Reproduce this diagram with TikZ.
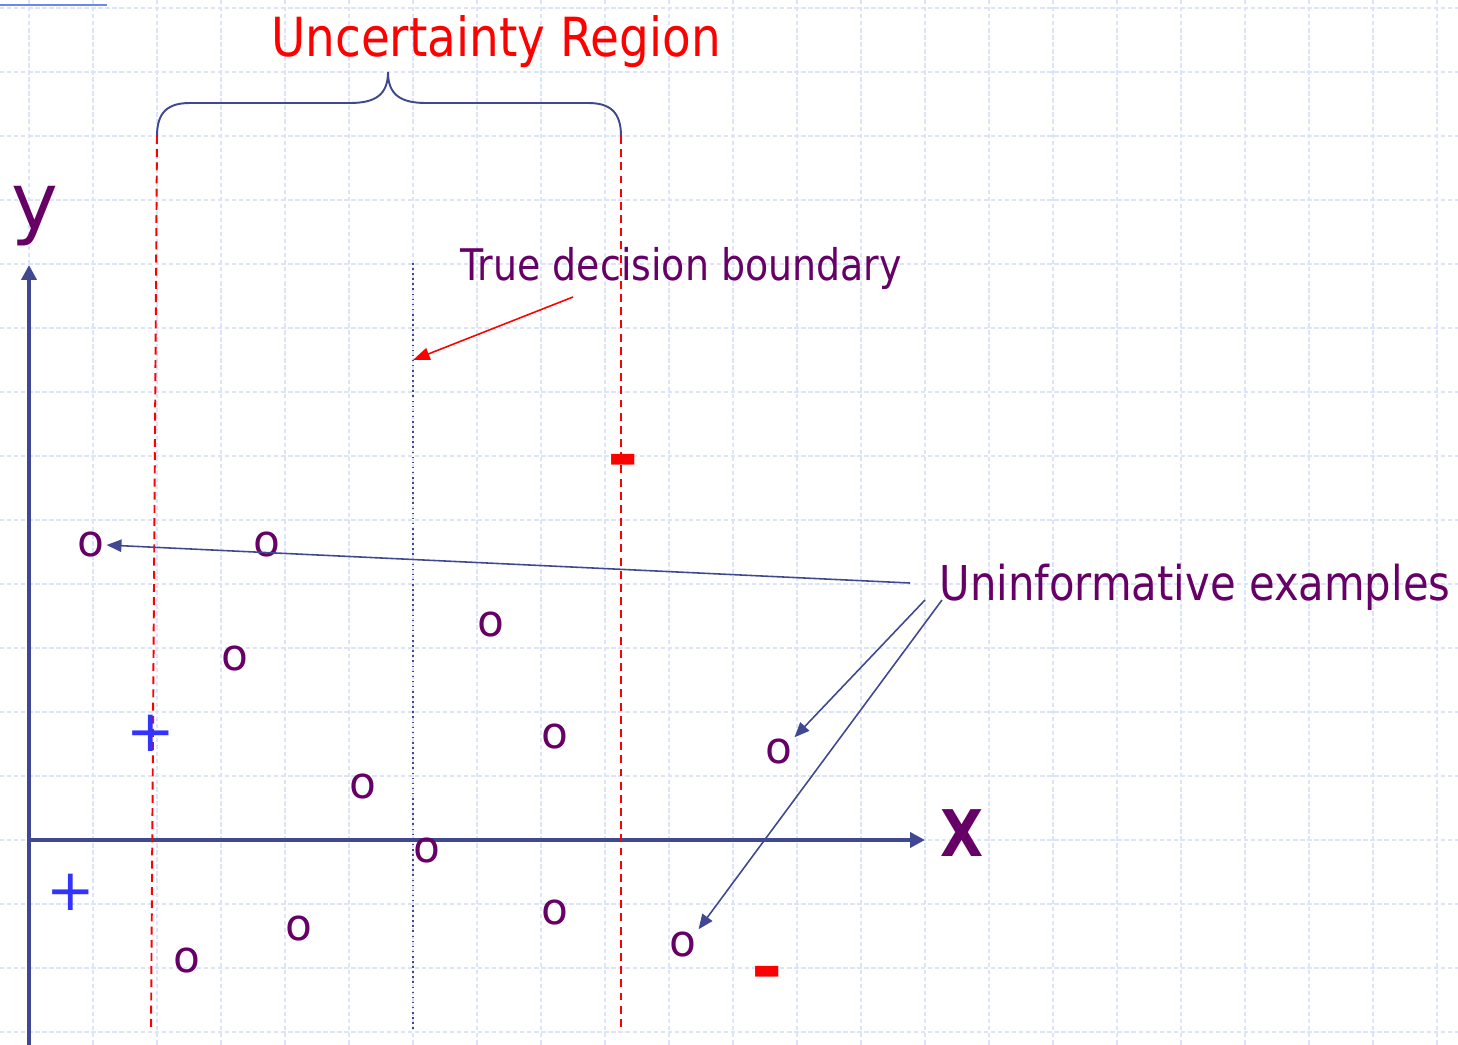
\documentclass[tikz,border=0pt]{standalone}
\usepackage{fontspec}
\setmainfont{DejaVu Sans}
\newfontfamily\lblfont[FakeStretch=0.87]{DejaVu Sans}
\usetikzlibrary{arrows.meta}
\definecolor{axisblue}{RGB}{64,72,145}
\definecolor{labelpurple}{RGB}{102,0,102}
\definecolor{gridblue}{RGB}{220,228,252}
\definecolor{plusblue}{RGB}{51,51,255}
\definecolor{topblue}{RGB}{110,135,240}

\begin{document}
\begin{tikzpicture}[x=0.02cm,y=-0.02cm,>={Triangle[length=8.5pt,width=8.5pt]},
    axis line/.style={draw=axisblue,line width=2.3pt},
    region line/.style={draw=red,line width=1.1pt,dash pattern=on 4.5pt off 3pt},
    pointer/.style={draw=axisblue,line width=0.9pt,-{Triangle[length=8.5pt,width=7pt]}},
    sample/.style={text=labelpurple,font=\fontsize{25}{28}\selectfont,inner sep=1pt},
    pos sample/.style={text=plusblue,font=\fontsize{33}{35}\selectfont,inner sep=0pt},
    neg sample/.style={text=red,font=\bfseries\fontsize{43}{45}\selectfont,inner sep=0pt},
    caption/.style={text=labelpurple,font=\lblfont\fontsize{27.3}{30}\selectfont,inner sep=0pt,anchor=base}]
  \useasboundingbox (0,0) rectangle (1458,1045);

  % background grid
  \foreach \gx in {29,93,...,1437}
    \draw[gridblue,line width=0.8pt,dash pattern=on 2.5pt off 1.5pt] (\gx,0) -- (\gx,1045);
  \foreach \gy in {8,72,...,1032}
    \draw[gridblue,line width=0.8pt,dash pattern=on 2.5pt off 1.5pt] (0,\gy) -- (1458,\gy);
  \draw[topblue,line width=1.2pt] (0,5) -- (107,5);

  % axes
  \coordinate (O) at (29,840);
  \coordinate (ytop) at (29,265);
  \coordinate (ybot) at (29,1045);
  \coordinate (xend) at (925,840);
  \draw[axis line,->] (ybot) -- (ytop);
  \draw[axis line,->] (O) -- (xend);
  \node[caption,font=\fontsize{45}{48}\selectfont] (ylbl) at (35,229) {y};
  \node[caption,font=\lblfont\bfseries\fontsize{36.6}{40}\selectfont] (xlbl) at (962,856) {X};

  % uncertainty region
  \coordinate (bl) at (157,136);
  \coordinate (br) at (621,136);
  \coordinate (tip) at (388,72);
  \draw[axisblue,line width=1.1pt] (bl) .. controls (157,112) and (168,103) .. (190,103)
    -- (350,103) .. controls (375,103) and (388,95) .. (tip)
    .. controls (388,95) and (401,103) .. (426,103)
    -- (588,103) .. controls (610,103) and (621,112) .. (br);
  \node[caption,text=red,font=\lblfont\fontsize{30.7}{34}\selectfont] (title) at (496,56) {Uncertainty Region};
  \draw[region line] (bl) -- (151,1032);
  \draw[region line] (br) -- (621,1032);

  % true boundary
  \coordinate (bt) at (413,263);
  \coordinate (bb) at (413,1030);
  \coordinate (bhit) at (413,360);
  \draw[axisblue,line width=0.9pt,dotted] (bt) -- (bb);
  \node[caption,font=\lblfont\fontsize{24.8}{28}\selectfont] (tdb) at (681,280) {True decision boundary};
  \coordinate (tstart) at (573,297);
  \draw[red,line width=0.9pt,-{Triangle[length=9.5pt,width=7pt]}] (tstart) -- (bhit);

  % samples
  \node[sample] (o1) at (91,545) {o};
  \node[sample] (o2) at (267,545) {o};
  \node[sample] (o3) at (491,625) {o};
  \node[sample] (o4) at (235,659) {o};
  \node[sample] (o5) at (555,737) {o};
  \node[sample] (o6) at (363,787) {o};
  \node[sample] (o7) at (779,752) {o};
  \node[sample] (o8) at (427,851) {o};
  \node[sample] (o9) at (299,929) {o};
  \node[sample] (o10) at (555,913) {o};
  \node[sample] (o11) at (187,961) {o};
  \node[sample] (o12) at (683,944) {o};
  \node[pos sample] (p1) at (151,733) {+};
  \node[pos sample] (p2) at (71,892) {+};
  \node[neg sample] (n1) at (623,468) {-};
  \node[neg sample] (n2) at (767,980) {-};

  % uninformative examples
  \node[caption] (unin) at (1195,600) {Uninformative examples};
  \coordinate (u1) at (910,583);
  \coordinate (u2) at (925,600);
  \coordinate (u3) at (942,600);
  \draw[pointer] (u1) -- (o1.east);
  \draw[pointer] (u2) -- (o7.north east);
  \draw[pointer] (u3) -- (o12.north east);
\end{tikzpicture}
\end{document}
